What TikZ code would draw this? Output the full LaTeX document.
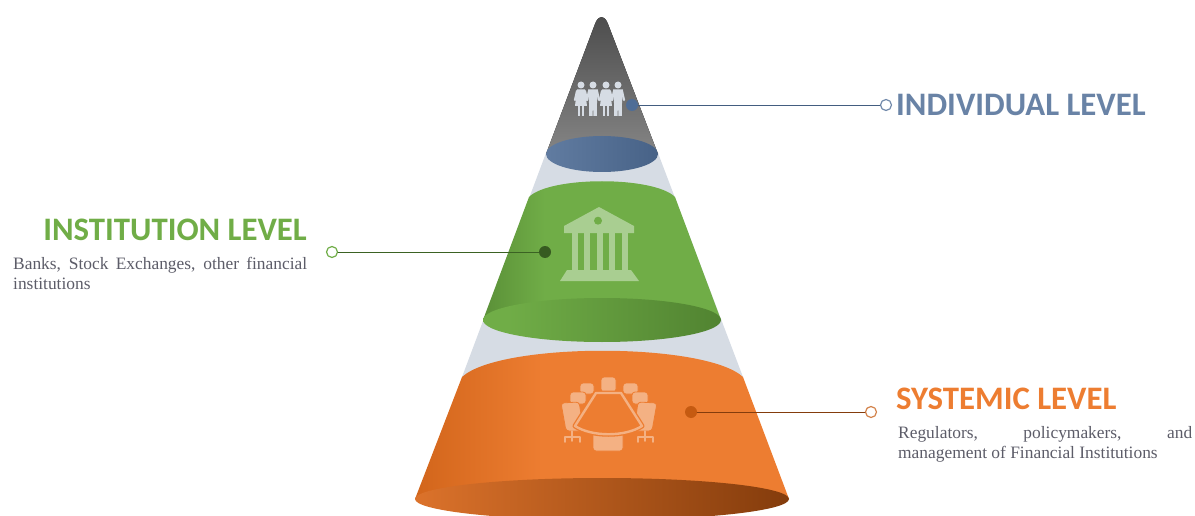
\documentclass[tikz,border=0pt]{standalone}
\usepackage{fontspec}
\setmainfont{Liberation Serif}
\newfontfamily\headfont{Carlito}
\definecolor{coneg}{HTML}{D6DCE4}
\definecolor{blueb}{HTML}{4F6D96}
\definecolor{greenb}{HTML}{70AD47}
\definecolor{greend}{HTML}{4A7A2C}
\definecolor{orangeb}{HTML}{ED7D31}
\definecolor{oranged}{HTML}{C55A11}
\definecolor{orangek}{HTML}{843C0C}
\definecolor{orangel}{HTML}{F4B183}
\definecolor{bodyc}{HTML}{5C5C68}
\pgfdeclarehorizontalshading{greenbody}{100bp}{color(0bp)=(greenb!70!greend); color(15bp)=(greend); color(38bp)=(greenb); color(100bp)=(greenb)}
\pgfdeclarehorizontalshading{greenrim}{100bp}{color(0bp)=(greenb); color(30bp)=(greenb); color(85bp)=(greend); color(100bp)=(greend)}
\pgfdeclarehorizontalshading{orangebody}{100bp}{color(0bp)=(orangeb!85!oranged); color(17bp)=(oranged); color(42bp)=(orangeb); color(100bp)=(orangeb)}
\pgfdeclarehorizontalshading{orangerim}{100bp}{color(0bp)=(orangeb); color(15bp)=(orangeb); color(75bp)=(orangek); color(100bp)=(orangek)}
\tikzset{
  dotmark/.style={circle, inner sep=0pt, minimum size=12pt},
  ringmark/.style={circle, draw, fill=white, line width=1.2pt, inner sep=0pt, minimum size=11pt},
  leveltext/.style={inner sep=0pt, font=\headfont\bfseries\fontsize{32.8}{33}\selectfont},
  bodytext/.style={inner sep=0pt, text width=294pt, align=justify, text=bodyc, font=\fontsize{17.4}{20}\selectfont},
  chair/.style={fill=orangel, draw=orangeb, line width=0.8pt, rounded corners=3pt},
  tablepart/.style={line width=#1, line join=round},
}
\begin{document}
\begin{tikzpicture}[x=1pt, y=-1pt, line join=round, line cap=round]
  \useasboundingbox (0,0) rectangle (1195,516);
  \fill[coneg] (546,153)--(658,153)--(743,377)--(462,377)--cycle;
  \fill[top color=black!70, bottom color=black!48] (546,154)--(595,24) .. controls (598,15) and (605,15) .. (608,24)--(658,154)--cycle;
  \shade[left color=blueb!90!white, right color=blueb!90!black] (602,154) ellipse (56 and 18);
  \path[shading=greenbody] (529,197) .. controls (550,176) and (654,176) .. (675,197)--(721,320)--(483,320)--cycle;
  \path[shading=greenrim] (602,320) ellipse (119 and 22);
  \path[shading=orangebody] (462,377) .. controls (500,342) and (705,342) .. (743,377)--(789,499)--(415,499)--cycle;
  \path[shading=orangerim] (602,499) ellipse (187 and 21);
  % people
  \foreach \px/\kind in {581/0,593/1,606/0,618/1}{
    \begin{scope}[shift={(\px,85)}]
      \fill[coneg] (0,0) circle (3.5);
      \draw[coneg, line width=2.2pt] (-4,6)--(-6,15);
      \draw[coneg, line width=2.2pt] (4,6)--(6,15);
      \ifnum\kind=0
        \fill[coneg] (-4,4.5)--(4,4.5)--(6,21)--(-6,21)--cycle;
        \fill[coneg] (-3.4,21) rectangle (-0.6,31);
        \fill[coneg] (0.6,21) rectangle (3.4,31);
      \else
        \fill[coneg] (-5,4.5)--(5,4.5)--(4,18)--(3.8,31)--(0.5,31)--(0,20)--(-0.5,31)--(-3.8,31)--(-4,18)--cycle;
      \fi
    \end{scope}
  }
  % bank
  \fill[greenb!60!white] (599,207)--(634,226)--(634,233)--(564,233)--(564,226)--cycle;
  \fill[greenb] (598,220.7) circle (4);
  \foreach \cx in {572,584,597,609,622}
    \fill[greenb!60!white] (\cx,233) rectangle +(6,37);
  \fill[greenb!60!white] (567,270)--(631,270)--(639,281)--(560,281)--cycle;
  % table and chairs
  \filldraw[chair] (601,377) rectangle (616,392);
  \filldraw[chair] (580,383) rectangle (594,394);
  \filldraw[chair] (623,383) rectangle (638,394);
  \filldraw[chair] (570,392) rectangle (586,404);
  \filldraw[chair] (632,392) rectangle (648,404);
  \filldraw[chair] (561,403)--(579,402)--(584,431)--(566,431)--cycle;
  \filldraw[chair] (638,402)--(657,403)--(652,431)--(634,431)--cycle;
  \filldraw[chair] (593,431) rectangle (623,451);
  \draw[orangel, line width=1.8pt] (565,442)--(565,437)--(580,437)--(580,442) (572,431)--(572,441);
  \draw[orangel, line width=1.8pt] (638,442)--(638,437)--(653,437)--(653,442) (645,431)--(645,441);
  \draw[orangeb, tablepart=5pt] (596,393)--(621,393)--(642,426) .. controls (625,437) and (592,437) .. (575,426)--cycle;
  \filldraw[draw=orangel, tablepart=2.4pt, fill=orangeb] (596,393)--(621,393)--(642,426) .. controls (625,437) and (592,437) .. (575,426)--cycle;
  % connectors
  \node[dotmark, fill=blueb] (inddot) at (632,105) {};
  \node[ringmark, draw=blueb!80!white] (indring) at (886,105) {};
  \draw[blueb!85!black, line width=0.9pt] (inddot)--(indring);
  \node[dotmark, fill=greend!75!black] (insdot) at (545,252) {};
  \node[ringmark, draw=greenb] (insring) at (332,252) {};
  \draw[greend!80!black, line width=0.9pt] (insdot)--(insring);
  \node[dotmark, fill=oranged] (sysdot) at (691,412) {};
  \node[ringmark, draw=oranged!75!white] (sysring) at (871,412) {};
  \draw[orangek, line width=0.9pt] (sysdot)--(sysring);
  % labels
  \node[leveltext, text=blueb!85!white, anchor=west] (indtext) at (896,105) {INDIVIDUAL LEVEL};
  \node[leveltext, text=greenb, anchor=east] (instext) at (307,230) {INSTITUTION LEVEL};
  \node[bodytext, anchor=north west] (insbody) at (13,257) {Banks, Stock Exchanges, other financial\linebreak institutions};
  \node[leveltext, text=orangeb, anchor=west] (systext) at (896,399) {SYSTEMIC LEVEL};
  \node[bodytext, anchor=north west] (sysbody) at (898,426) {Regulators, policymakers, and\linebreak management of Financial Institutions};
\end{tikzpicture}
\end{document}
